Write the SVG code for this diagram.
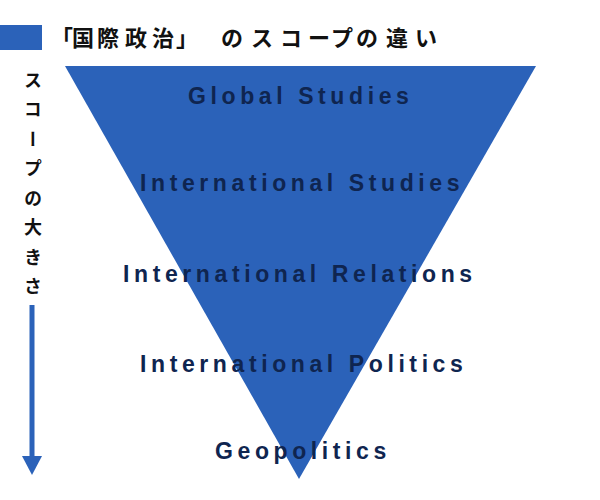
<svg xmlns="http://www.w3.org/2000/svg" width="600" height="500" viewBox="0 0 600 500">
  <style>
    .blue { fill: #2b62b9; }
    .title { font-family: "Noto Sans CJK JP", "Noto Sans", sans-serif; font-size: 22px; font-weight: 700; fill: #111111; }
    .side { font-family: "Noto Sans CJK JP", "Noto Sans", sans-serif; font-size: 18px; font-weight: 700; fill: #111111; writing-mode: vertical-rl; letter-spacing: 11.5px; }
    .lvl { font-family: "Liberation Sans", Arial, sans-serif; font-size: 23px; font-weight: 700; fill: #0f2550; letter-spacing: 4.6px; }
  </style>
  <rect width="600" height="500" fill="#ffffff"/>
  <g id="legend">
    <rect class="blue" x="0" y="25" width="42" height="25"/>
    <text class="title" x="51 72 97 125 152 176 221 251 280 308 331 356 386 415" y="46">「国際政治」のスコープの違い</text>
  </g>
  <g id="scope-triangle">
    <polygon class="blue" points="65,66 536,66 299,479"/>
  </g>
  <g id="global-studies"><text class="lvl" x="188" y="104">Global Studies</text></g>
  <g id="international-studies"><text class="lvl" x="140" y="191">International Studies</text></g>
  <g id="international-relations"><text class="lvl" x="123" y="282">International Relations</text></g>
  <g id="international-politics"><text class="lvl" x="140" y="372">International Politics</text></g>
  <g id="geopolitics"><text class="lvl" x="215" y="459">Geopolitics</text></g>
  <g id="scope-axis">
    <text class="side" x="33" y="71">スコープの大きさ</text>
  </g>
  <g id="connectors">
    <line x1="32" y1="305" x2="32" y2="458" stroke="#2b62b9" stroke-width="5"/>
    <polygon class="blue" points="22,456 42,456 32,475"/>
  </g>
</svg>
